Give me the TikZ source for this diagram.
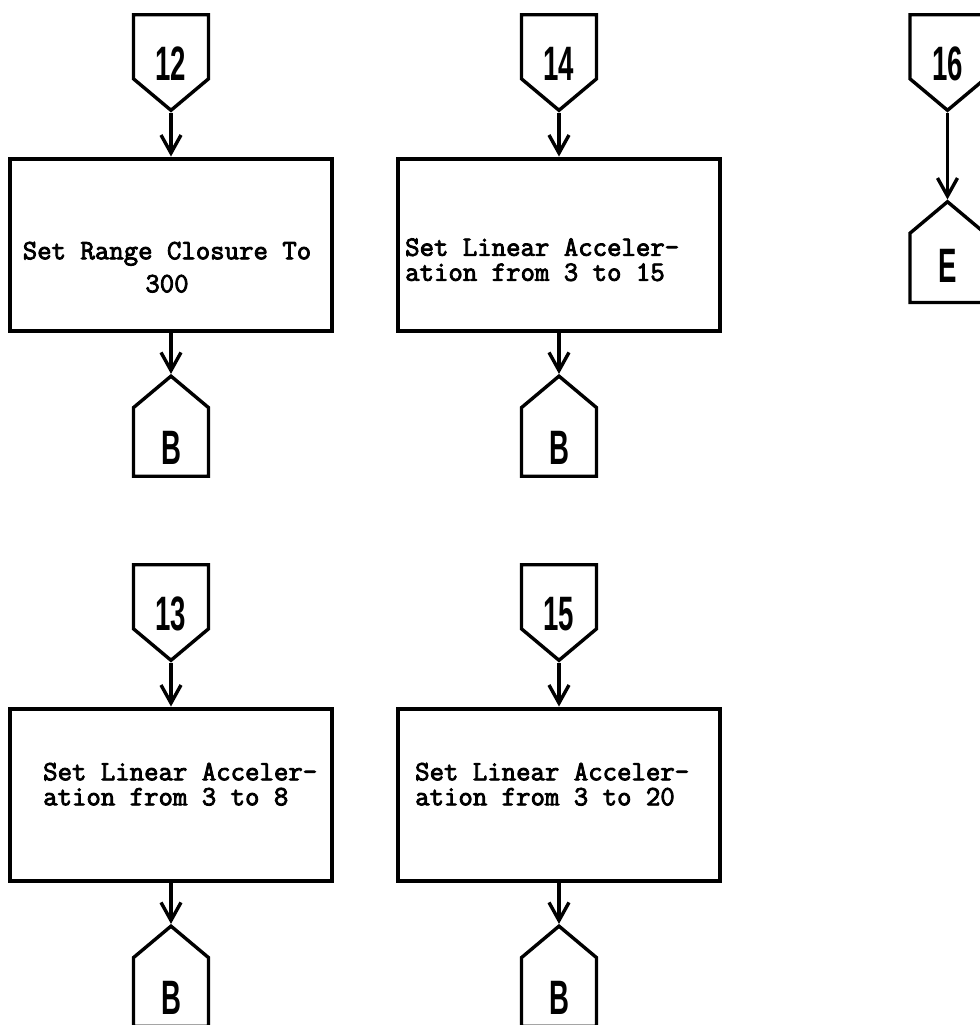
\documentclass[tikz,border=0pt]{standalone}
\usepackage{fontspec}
\usepackage{graphicx}
\newfontfamily\lblfont{Liberation Sans}
\newfontfamily\tyfont[FakeBold=3]{Latin Modern Mono}
\usepackage{tikz}
\usetikzlibrary{positioning, arrows.meta, shapes.symbols}

% hand lettered connector labels
\newcommand{\lbl}[2][-3pt]{\raisebox{#1}[\height][\depth]{\scalebox{0.6}[1.05]{\lblfont\bfseries\fontsize{23}{23}\selectfont #2}}}
\newcommand{\boxfont}{\tyfont\fontsize{14}{12.5}\selectfont}

\begin{document}
\begin{tikzpicture}[
    x=0.5pt, y=-0.5pt,
    block/.style={rectangle, draw, line width=2.2pt, minimum width=161pt,
    minimum height=86pt, inner sep=0pt},
    inpage/.style={signal, draw, line width=1.7pt, signal to=south,
    signal from=nowhere, signal pointer angle=100, minimum width=37.5pt,
    minimum height=38.5pt, inner sep=0pt},
    outpage/.style={inpage, signal to=north},
    txt/.style={font=\boxfont, align=left, inner sep=0pt},
    arrow/.style={-{Straight Barb[length=9pt,width=10pt]}, line width=1.7pt}
]
\useasboundingbox (0,0) rectangle (980,1025);

% top row
\node[inpage, anchor=north] (c12) at (171,13) {\lbl[-8.5pt]{12}};
\node[block, below=22pt of c12] (box12) {};
\node[outpage, below=20.5pt of box12] (b12) {\lbl{B}};
\node[txt, align=center] (t12) at ([xshift=-2pt, yshift=-11.25pt]box12.center)
    {Set Range Closure To\\[4pt]300};

\node[inpage, anchor=north] (c14) at (559,13) {\lbl[-8.5pt]{14}};
\node[block, below=22pt of c14] (box14) {};
\node[outpage, below=20.5pt of box14] (b14) {\lbl{B}};
\node[txt, anchor=west] (t14) at ([xshift=4.5pt, yshift=-7.5pt]box14.west)
    {Set Linear Acceler-\\ation from 3 to 15};

\node[inpage, anchor=north] (c16) at (947.5,13) {\lbl[-8.5pt]{16}};
\node[outpage, below=43.5pt of c16] (e16) {\lbl[1pt]{E}};

% bottom row
\node[inpage, anchor=north] (c13) at (171,563) {\lbl[-8.5pt]{13}};
\node[block, below=22pt of c13] (box13) {};
\node[outpage, below=20.5pt of box13] (b13) {\lbl{B}};
\node[txt, anchor=west] (t13) at ([xshift=17.5pt, yshift=5.25pt]box13.west)
    {Set Linear Acceler-\\ation from 3 to 8};

\node[inpage, anchor=north] (c15) at (559,563) {\lbl[-8.5pt]{15}};
\node[block, below=22pt of c15] (box15) {};
\node[outpage, below=20.5pt of box15] (b15) {\lbl{B}};
\node[txt, anchor=west] (t15) at ([xshift=9.5pt, yshift=5.25pt]box15.west)
    {Set Linear Acceler-\\ation from 3 to 20};

\draw[arrow] (c12.south) -- (box12.north);
\draw[arrow] (box12.south) -- (b12.north);
\draw[arrow] (c14.south) -- (box14.north);
\draw[arrow] (box14.south) -- (b14.north);
\draw[arrow] (c16.south) -- (e16.north);
\draw[arrow] (c13.south) -- (box13.north);
\draw[arrow] (box13.south) -- (b13.north);
\draw[arrow] (c15.south) -- (box15.north);
\draw[arrow] (box15.south) -- (b15.north);

\end{tikzpicture}
\end{document}
